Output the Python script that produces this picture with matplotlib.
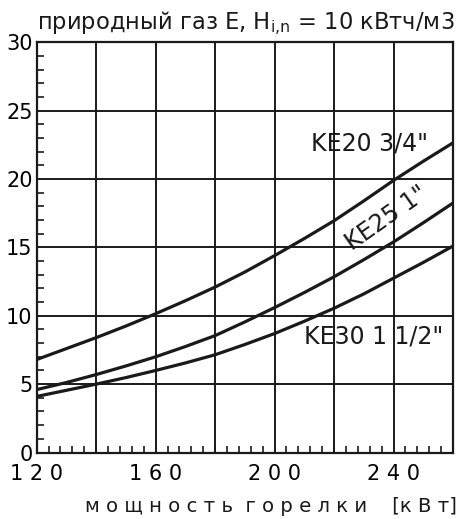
import matplotlib
matplotlib.use("Agg")
import matplotlib.pyplot as plt
from matplotlib.ticker import MultipleLocator, FixedLocator

plt.rcParams['font.family'] = ['DejaVu Sans']
plt.rcParams['mathtext.fontset'] = 'dejavusans'

power = [120, 130, 140, 150, 160, 170, 180, 190, 200, 210, 220, 230, 240, 250, 260]
ke20 = [6.8, 7.6, 8.4, 9.25, 10.15, 11.1, 12.1, 13.2, 14.4, 15.65, 16.95, 18.4, 19.9, 21.3, 22.65]
ke25 = [4.6, 5.12, 5.7, 6.33, 7.0, 7.75, 8.55, 9.55, 10.6, 11.7, 12.85, 14.1, 15.4, 16.8, 18.25]
ke30 = [4.1, 4.55, 5.0, 5.48, 6.0, 6.55, 7.15, 7.9, 8.7, 9.6, 10.55, 11.6, 12.75, 13.9, 15.1]

xticks = [120, 160, 200, 240]
xgrid = [140, 180, 220]
xticklabels = ["1 2 0", "1 6 0", "2 0 0", "2 4 0"]
yticks = [0, 5, 10, 15, 20, 25, 30]

title = "природный газ E, H$_{\\mathrm{i{,}n}}$ = 10 кВтч/м3"
xlabel = "м о щ н о с т ь  г о р е л к и    [к В т]"
labels = ['KE20 3/4"', 'KE25 1"', 'KE30 1 1/2"']

INK = '#1a1a1a'
FS = 15
LFS = 17

fig = plt.figure(figsize=(4.61, 5.19), dpi=100)
ax = fig.add_axes([0.0796, 0.1281, 0.9031, 0.7904])

for s in (ke20, ke25, ke30):
    ax.plot(power, s, color=INK, lw=2.3, solid_capstyle='butt', zorder=3)

ax.set_xlim(120, 260)
ax.set_ylim(0, 30)

ax.xaxis.set_major_locator(FixedLocator(xticks))
ax.set_xticklabels(xticklabels, fontsize=FS)
ax.set_yticks(yticks)
ax.set_yticklabels([str(v) for v in yticks], fontsize=FS)
ax.grid(True, which='major', color=INK, lw=1.4)
for xv in xgrid:
    ax.axvline(xv, color=INK, lw=1.4, zorder=1)
ax.xaxis.set_minor_locator(MultipleLocator(4))
ax.yaxis.set_minor_locator(MultipleLocator(1))
ax.tick_params(axis='y', which='major', length=0, pad=3)
ax.tick_params(axis='x', which='major', length=0, pad=8)
ax.tick_params(axis='both', which='minor', direction='in', length=5, width=1.2, color=INK)
for sp in ax.spines.values():
    sp.set_linewidth(1.6)
    sp.set_color(INK)

ax.text(0.0, 1.012, title, transform=ax.transAxes, fontsize=16.3, ha='left', va='bottom', color=INK)
fig.text(0.992, 0.006, xlabel, fontsize=14.2, ha='right', va='bottom', color=INK)

ax.text(251.5, 22.6, labels[0], fontsize=LFS, ha='right', va='center', color=INK)
ax.text(237.7, 17.1, labels[1], fontsize=LFS, ha='center', va='center', rotation=35, color=INK)
ax.text(256.8, 8.5, labels[2], fontsize=LFS, ha='right', va='center', color=INK)

fig.savefig('out.png', dpi=100)
